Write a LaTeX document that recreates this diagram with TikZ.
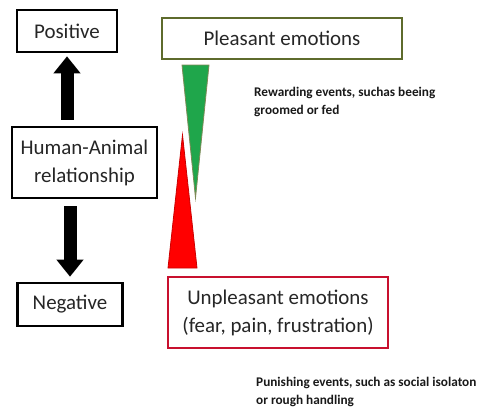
\documentclass[tikz,border=0pt]{standalone}
\usepackage{fontspec}
\setmainfont{Carlito}
\usetikzlibrary{arrows.meta}
\definecolor{olivebd}{HTML}{5E6B2C}
\definecolor{gfill}{HTML}{1FA64B}
\definecolor{rbd}{HTML}{C8102E}
\tikzset{
  box/.style={draw=black, line width=2.6bp, inner sep=0pt, align=center, font=\fontsize{21}{28}\selectfont, text=black!85},
  fatarrow/.style={line width=13bp, -{Triangle[width=26bp,length=17bp]}},
  note/.style={font=\bfseries\fontsize{13.3}{18}\selectfont, align=left, inner sep=0pt, anchor=north west, text=black!90},
}
\begin{document}
\begin{tikzpicture}[x=1bp,y=-1bp]
\useasboundingbox (0,0) rectangle (486,410);
\fill[white] (0,0) rectangle (486,410);
% left column
\node[box, minimum width=100bp, minimum height=42bp] (pos) at (67,31) {Positive};
\node[box, minimum width=145bp, minimum height=71bp] (hum) at (84.5,162.5) {Human-Animal\\relationship};
\node[box, minimum width=105bp, minimum height=43bp] (neg) at (70,304.5) {Negative};
\draw[fatarrow, shorten <=6bp, shorten >=3bp] (hum.north -| pos.south) -- (pos.south);
\draw[fatarrow, shorten <=7bp, shorten >=5bp] (hum.south -| neg.north) -- (neg.north);
% right column
\node[box, draw=olivebd, line width=2.8bp, minimum width=240bp, minimum height=41bp] (ple) at (282,38.5) {Pleasant emotions};
\node[box, draw=rbd, line width=2.6bp, minimum width=220bp, minimum height=71bp] (unp) at (278,312.5) {Unpleasant emotions\\(fear, pain, frustration)};
% triangles
\filldraw[fill=gfill, draw=olivebd!80, line width=0.8bp] (182,65) -- (209,65) -- (195.5,198) -- cycle;
\filldraw[fill=red, draw=red!80!black, line width=0.8bp] (182.5,135) -- (197,268) -- (168,268) -- cycle;
% notes
\node[note] (rew) at (254,87) {Rewarding events, suchas beeing\\groomed or fed};
\node[note] (pun) at (256,377) {Punishing events, such as social isolaton\\or rough handling};
\end{tikzpicture}
\end{document}
